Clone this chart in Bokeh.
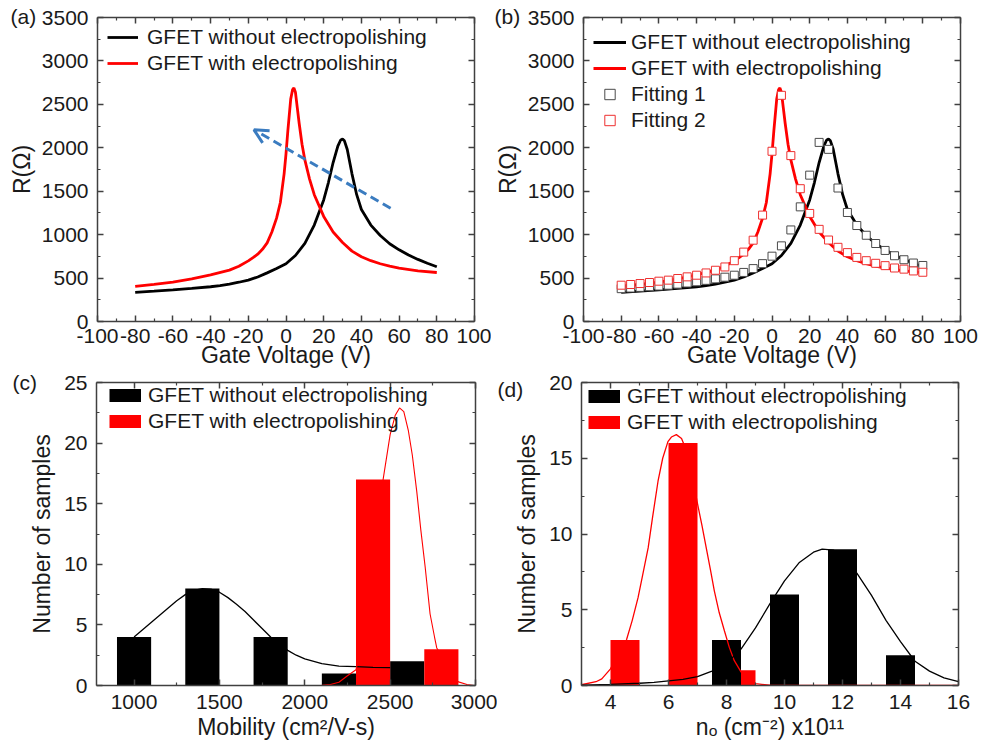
from bokeh.plotting import figure
from bokeh.models import (LinearAxis, FixedTicker, Legend, LegendItem,
                          Arrow, OpenHead, Range1d)
from bokeh.layouts import row, column
from bokeh.embed import file_html
from bokeh.resources import INLINE

NAN = float("nan")

# ---------------- data ----------------
# (a)/(b) transfer curves
vg_black = [-80, -70, -60, -50, -40, -35, -30, -25, -20, -15, -10, -5, 0, 5, 10, 15, 20, 22.5, 25,
            27.5, 29, 30, 31, 32.5, 35, 37.5, 40, 45, 50, 55, 60, 65, 70, 75, 80]
r_black = [336, 350, 365, 382, 400, 413, 430, 452, 477, 512, 560, 610, 665, 760, 900, 1110, 1400,
           1600, 1830, 2020, 2090, 2100, 2080, 1980, 1700, 1460, 1290, 1110, 990, 895, 825, 765, 715,
           670, 630]
vg_red = [-80, -70, -60, -50, -40, -30, -25, -20, -17.5, -15, -12.5, -10, -7.5, -5, -3, -1, 0, 1, 2.5,
          3.5, 4.2, 5, 6, 7, 8.5, 10, 12.5, 15, 20, 25, 30, 35, 40, 45, 50, 55, 60, 70, 80]
r_red = [404, 428, 454, 490, 538, 591, 636, 698, 735, 775, 831, 905, 1030, 1190, 1370, 1700, 1930,
         2200, 2560, 2670, 2690, 2640, 2460, 2280, 2040, 1860, 1640, 1460, 1210, 1030, 910, 810, 745,
         700, 665, 638, 615, 583, 564]
# (b) fitting points
vg_fit = [-80, -75, -70, -65, -60, -55, -50, -45, -40, -35, -30, -25, -20, -15, -10, -5, 0,
          5, 10, 15, 20, 25, 30, 35, 40, 45, 50, 55, 60, 65, 70, 75, 80]
fit1 = [378, 385, 393, 400, 408, 418, 430, 443, 457, 474, 491, 510, 533, 565, 609, 666, 752,
        871, 1054, 1320, 1685, 2062, 1982, 1537, 1255, 1105, 993, 898, 818, 757, 711, 673, 645]
fit2 = [418, 426, 437, 449, 464, 476, 495, 514, 533, 559, 590, 628, 700, 799, 936, 1225, 1960,
        2604, 1910, 1529, 1244, 1061, 938, 854, 793, 738, 700, 670, 643, 616, 603, 582, 567]
arrow_v = [55.5, -17]
arrow_r = [1304, 2207]

# (c) mobility histogram
mob_black = [1000, 1400, 1800, 2200, 2600]
cnt_mob_black = [4, 8, 4, 1, 2]
mob_red = [2400, 2800]
cnt_mob_red = [17, 3]
mob_fit_black_x = [1000, 1050, 1100, 1150, 1200, 1250, 1300, 1350, 1400, 1450, 1500, 1550, 1600,
                   1650, 1700, 1750, 1800, 1850, 1900, 1950, 2000, 2100, 2200, 2300, 2400, 2500]
mob_fit_black_y = [4.0, 4.6, 5.2, 5.8, 6.4, 7.0, 7.5, 7.85, 8.0, 7.95, 7.7, 7.25, 6.7,
                   6.1, 5.4, 4.7, 4.0, 3.4, 2.9, 2.5, 2.2, 1.8, 1.6, 1.55, 1.5, 1.48]
mob_fit_red_x = [780, 2000, 2100, 2150, 2200, 2250, 2300, 2350, 2400, 2450, 2500, 2530, 2555, 2580,
                 2607, 2630, 2656, 2680, 2705, 2734, 2760, 2773, 2800, 2850, 2900, 2950, 2990]
mob_fit_red_y = [0, 0, 0.02, 0.08, 0.27, 0.8, 1.3, 4.2, 9.5, 16.2, 20.7, 22.3, 22.9, 22.6,
                 21.0, 19.0, 16.0, 12.8, 9.8, 5.9, 4.0, 3.1, 2.5, 0.95, 0.3, 0.08, 0]

# (d) carrier density histogram
n_red = [4.5, 6.5, 8.5]
cnt_n_red = [3, 16, 1]
n_black = [8, 10, 12, 14]
cnt_n_black = [3, 6, 9, 2]
n_fit_red_x = [3.0, 3.5, 3.7, 4.0, 4.15, 4.35, 4.55, 4.75, 4.95, 5.1, 5.3, 5.45, 5.64, 5.8, 5.98,
               6.1, 6.27, 6.45, 6.6, 6.8, 7.0, 7.15, 7.3, 7.45, 7.58, 7.75, 7.93, 8.1, 8.27, 8.5,
               8.73, 9.0, 9.5, 10.0, 16.0]
n_fit_red_y = [0.05, 0.25, 0.44, 1.1, 1.64, 2.3, 3.0, 4.3, 5.8, 7.2, 9.1, 11.1, 13.5, 15.0, 16.1,
               16.4, 16.56, 16.3, 15.6, 14.0, 12.0, 10.6, 9.1, 7.6, 6.25, 4.8, 3.6, 2.5, 1.64, 0.9,
               0.33, 0.12, 0.02, 0, 0]
n_fit_black_x = [3.0, 4.0, 5.0, 5.5, 6.0, 6.5, 7.0, 7.5, 8.0, 8.5, 9.0, 9.5, 10.0, 10.5, 11.0, 11.3,
                 11.7, 12.0, 12.5, 13.0, 13.5, 14.0, 14.5, 15.0, 15.5, 16.0]
n_fit_black_y = [0.03, 0.07, 0.15, 0.2, 0.3, 0.4, 0.58, 0.95, 1.45, 2.4, 3.8, 5.4, 6.9, 8.1, 8.8, 9.0,
                 8.93, 8.6, 7.4, 5.95, 4.3, 2.9, 1.6, 0.95, 0.5, 0.25]

# ticks and tick labels
ticks_vg = [-100, -80, -60, -40, -20, 0, 20, 40, 60, 80, 100]
labels_vg = ["-100", "-80", "-60", "-40", "-20", "0", "20", "40", "60", "80", "100"]
minor_vg = [-90, -70, -50, -30, -10, 10, 30, 50, 70, 90]
ticks_r = [0, 500, 1000, 1500, 2000, 2500, 3000, 3500]
minor_r = [250, 750, 1250, 1750, 2250, 2750, 3250]
ticks_mob = [1000, 1500, 2000, 2500, 3000]
minor_mob = [1250, 1750, 2250, 2750]
ticks_cnt_c = [0, 5, 10, 15, 20, 25]
minor_cnt_c = [2.5, 7.5, 12.5, 17.5, 22.5]
ticks_n = [4, 6, 8, 10, 12, 14, 16]
minor_n = [3, 5, 7, 9, 11, 13, 15]
ticks_cnt_d = [0, 5, 10, 15, 20]
minor_cnt_d = [2.5, 7.5, 12.5, 17.5]
panel_names = ["(a)", "(b)", "(c)", "(d)"]

FONT = "Liberation Sans"
TXT = "#1a1a1a"
AXC = "#404040"
TICK_FS = "21px"
LAB_FS = "23px"


def style_axis(ax, ticks, minor, labels=True, label=None, standoff=8, lab_standoff=0, overrides=None):
    ax.ticker = FixedTicker(ticks=ticks, minor_ticks=minor)
    ax.axis_line_color = AXC
    ax.axis_line_width = 1.5
    ax.major_tick_line_color = AXC
    ax.major_tick_line_width = 1.5
    ax.minor_tick_line_color = AXC
    ax.minor_tick_line_width = 1.2
    ax.major_tick_in = 6
    ax.major_tick_out = 0
    ax.minor_tick_in = 3
    ax.minor_tick_out = 0
    if labels:
        ax.major_label_text_font = FONT
        ax.major_label_text_font_size = TICK_FS
        ax.major_label_text_color = TXT
        ax.major_label_standoff = standoff
        if overrides:
            ax.major_label_overrides = overrides
    else:
        ax.major_label_text_color = None
        ax.major_label_text_font_size = "1px"
        ax.major_label_standoff = 0
    if label:
        ax.axis_label = label
        ax.axis_label_text_font = FONT
        ax.axis_label_text_font_size = LAB_FS
        ax.axis_label_text_font_style = "normal"
        ax.axis_label_text_color = TXT
        ax.axis_label_standoff = lab_standoff


def make_fig(w, h, left, right, top, bottom, xr, yr, xt, xm, yt, ym, xlabel, ylabel, name, name_off,
             xstand=8, xlabstand=0, ystand=9, ylabstand=4, xover=None, name_standoff=-20):
    p = figure(width=w, height=h, x_range=Range1d(*xr), y_range=Range1d(*yr),
               output_backend="svg", toolbar_location=None,
               min_border_left=left, min_border_right=right,
               min_border_top=top, min_border_bottom=bottom)
    p.outline_line_color = None
    p.grid.visible = False
    p.background_fill_color = "white"
    p.border_fill_color = "white"
    style_axis(p.xaxis[0], xt, xm, True, xlabel, xstand, xlabstand, xover)
    style_axis(p.yaxis[0], yt, ym, True, ylabel, ystand, ylabstand)
    top_ax = LinearAxis()
    style_axis(top_ax, xt, xm, False)
    right_ax = LinearAxis()
    style_axis(right_ax, yt, ym, False)
    p.add_layout(top_ax, "above")
    p.add_layout(right_ax, "right")
    # panel letter as a left-aligned title
    p.title.text = name
    p.title.align = "left"
    p.title.offset = name_off
    p.title.standoff = name_standoff
    p.title.vertical_align = "bottom"
    p.title.text_font = FONT
    p.title.text_font_size = "21px"
    p.title.text_font_style = "normal"
    p.title.text_color = TXT
    return p


def make_legend(p, items, loc, standoff, glyph_w=31):
    leg = Legend(items=items, location=loc, orientation="vertical")
    leg.border_line_color = None
    leg.background_fill_alpha = 0
    leg.label_text_font = FONT
    leg.label_text_font_size = TICK_FS
    leg.label_text_color = TXT
    leg.glyph_width = glyph_w
    leg.glyph_height = 26
    leg.label_height = 26
    leg.label_standoff = standoff
    leg.padding = 0
    leg.margin = 0
    leg.spacing = 0
    p.add_layout(leg)
    return leg


vg_over = dict(zip(ticks_vg, labels_vg))

# ---------------- (a) ----------------
pa = make_fig(491, 374, 97, 17, 15, 53, (-100, 100), (0, 3500), ticks_vg, minor_vg, ticks_r, minor_r,
              "Gate Voltage (V)", "R(Ω)", panel_names[0], -87, xstand=7, xlabstand=-4, xover=vg_over)
la_b = pa.line(vg_black, r_black, line_color="black", line_width=2.8)
la_r = pa.line(vg_red, r_red, line_color="#ff0000", line_width=2.8)
pa.add_layout(Arrow(x_start=arrow_v[0], y_start=arrow_r[0], x_end=arrow_v[1], y_end=arrow_r[1],
                    line_color="#3b7cc0", line_width=3, line_dash="9 5",
                    end=OpenHead(size=14, line_color="#3b7cc0", line_width=3)))
make_legend(pa, [LegendItem(label="GFET without electropolishing", renderers=[la_b]),
                 LegendItem(label="GFET with electropolishing", renderers=[la_r])],
            (10, 245), 9)

# ---------------- (b) ----------------
pb = make_fig(491, 374, 91, 22, 17, 52, (-100, 100), (0, 3500), ticks_vg, minor_vg, ticks_r, minor_r,
              "Gate Voltage (V)", "R(Ω)", panel_names[1], -89, xstand=7, xlabstand=-4, xover=vg_over)
lb_b = pb.line(vg_black, r_black, line_color="black", line_width=2.8)
lb_r = pb.line(vg_red, r_red, line_color="#ff0000", line_width=2.8)
sb_1 = pb.scatter(vg_fit, fit1, marker="square", size=8, line_color="#4a4a4a", fill_color="white",
                  line_width=1)
sb_2 = pb.scatter(vg_fit, fit2, marker="square", size=8, line_color="#ee3030", fill_color="white",
                  line_width=1)
make_legend(pb, [LegendItem(label="GFET without electropolishing", renderers=[lb_b]),
                 LegendItem(label="GFET with electropolishing", renderers=[lb_r]),
                 LegendItem(label="Fitting 1", renderers=[sb_1]),
                 LegendItem(label="Fitting 2", renderers=[sb_2])],
            (10, 188), 5, glyph_w=33)

# ---------------- (c) ----------------
pc = make_fig(497, 381, 96, 22, 8, 69, (780, 3000), (0, 25), ticks_mob, minor_mob, ticks_cnt_c,
              minor_cnt_c, "Mobility (cm²/V-s)", "Number of samples", panel_names[2], -84,
              xstand=9, xlabstand=2, ystand=9, ylabstand=6, name_standoff=-22)
pc.vbar(x=mob_black, top=cnt_mob_black, width=200, fill_color="black", line_color=None)
pc.vbar(x=mob_red, top=cnt_mob_red, width=200, fill_color="#ff0000", line_color=None)
pc.line(mob_fit_black_x, mob_fit_black_y, line_color="black", line_width=1.3)
pc.line(mob_fit_red_x, mob_fit_red_y, line_color="#ff0000", line_width=1.1)
kc_b = pc.line(x=[NAN], y=[NAN], line_color="black", line_width=13, line_cap="butt")
kc_r = pc.line(x=[NAN], y=[NAN], line_color="#ff0000", line_width=13, line_cap="butt")
make_legend(pc, [LegendItem(label="GFET without electropolishing", renderers=[kc_b]),
                 LegendItem(label="GFET with electropolishing", renderers=[kc_r])],
            (13, 251), 7, glyph_w=32)

# ---------------- (d) ----------------
pd_ = make_fig(485, 381, 84, 24, 8, 70, (3, 16), (0, 20), ticks_n, minor_n, ticks_cnt_d, minor_cnt_d,
               "nₒ (cm⁻²) x10¹¹", "Number of samples", panel_names[3], -84,
               xstand=9, xlabstand=2, ystand=9, ylabstand=6, name_standoff=-36)
pd_.vbar(x=n_red, top=cnt_n_red, width=1, fill_color="#ff0000", line_color=None)
pd_.vbar(x=n_black, top=cnt_n_black, width=1, fill_color="black", line_color=None)
pd_.line(n_fit_red_x, n_fit_red_y, line_color="#ff0000", line_width=1.3)
pd_.line(n_fit_black_x, n_fit_black_y, line_color="black", line_width=1.3)
kd_b = pd_.line(x=[NAN], y=[NAN], line_color="black", line_width=13, line_cap="butt")
kd_r = pd_.line(x=[NAN], y=[NAN], line_color="#ff0000", line_width=13, line_cap="butt")
make_legend(pd_, [LegendItem(label="GFET without electropolishing", renderers=[kd_b]),
                  LegendItem(label="GFET with electropolishing", renderers=[kd_r])],
            (7, 250), 7, glyph_w=32)

layout = column(row(pa, pb), row(pc, pd_))
with open("out.html", "w") as f:
    f.write(file_html(layout, INLINE))
